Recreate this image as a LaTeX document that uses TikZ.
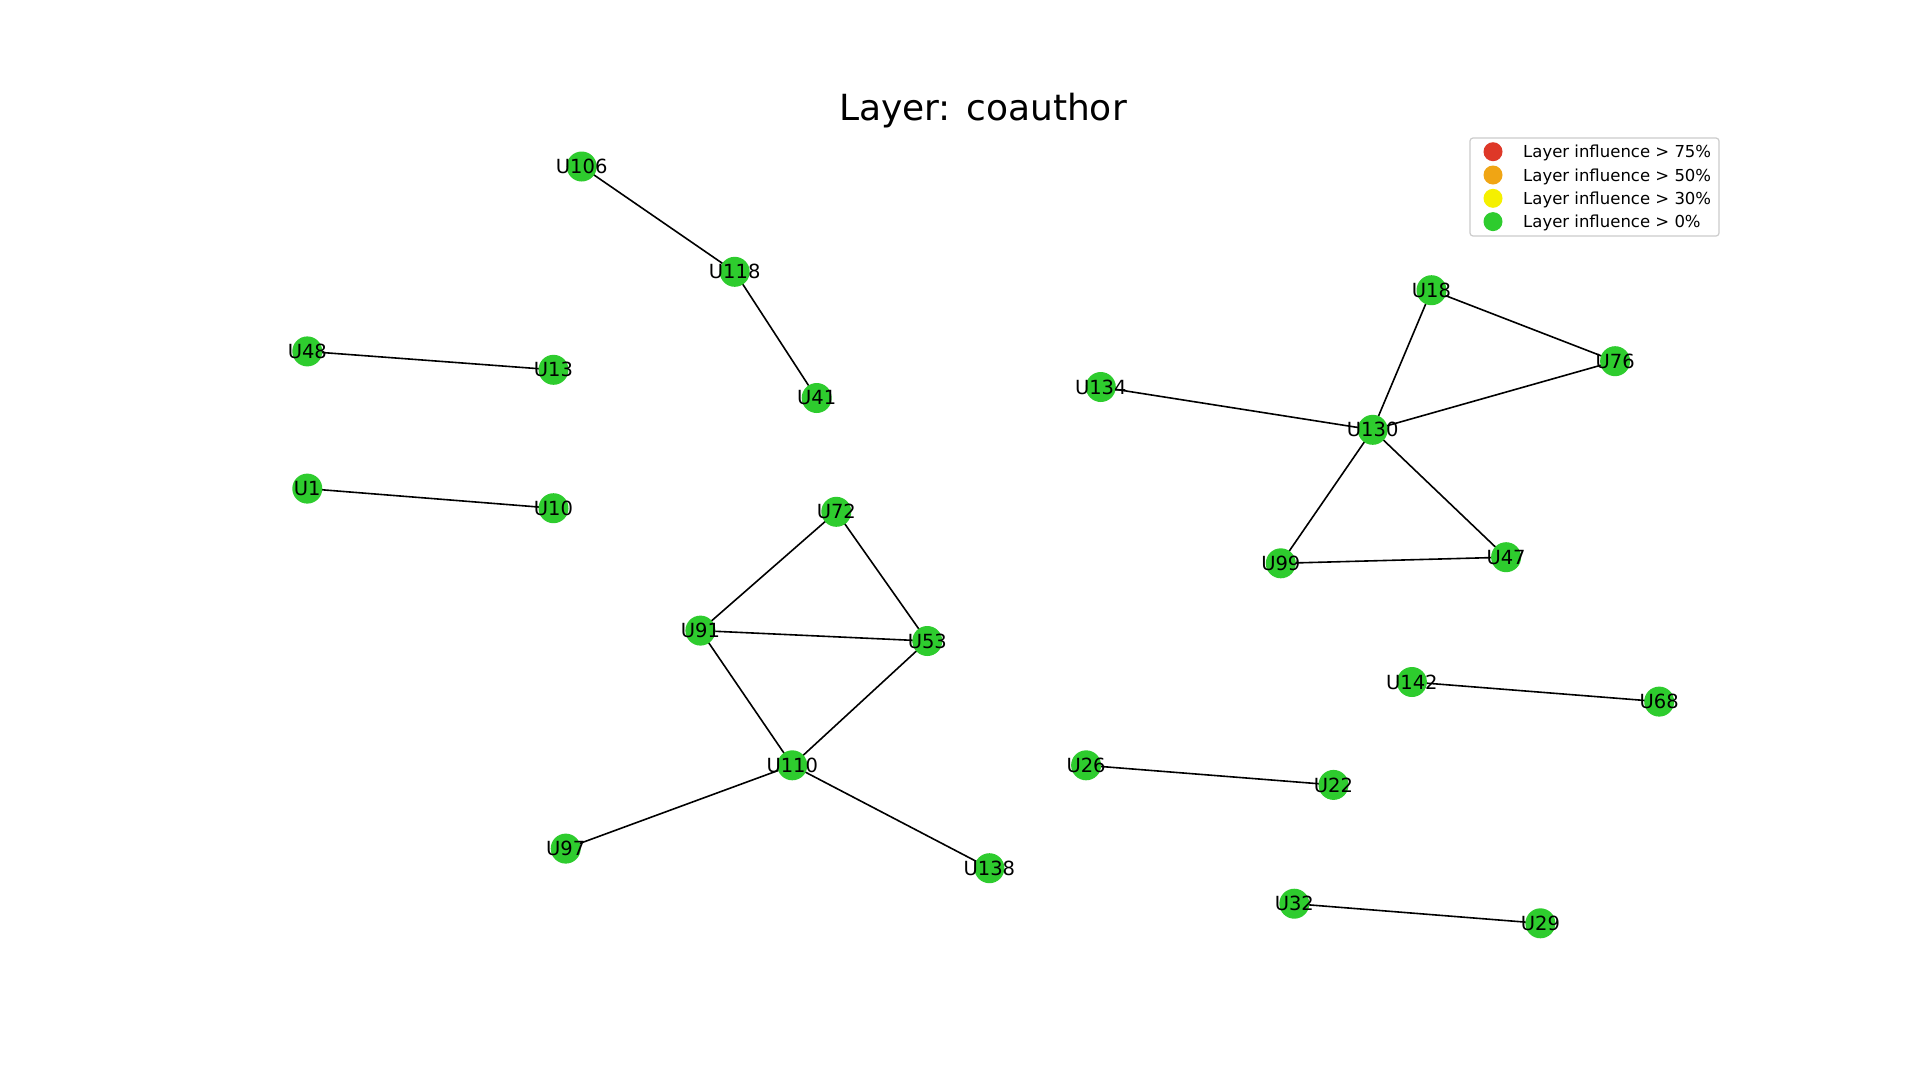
\documentclass[tikz,border=0pt]{standalone}
\usepackage{fontspec}
\setmainfont{DejaVu Sans}
\pgfdeclarelayer{bg}
\pgfdeclarelayer{edges}
\pgfsetlayers{bg,edges,main}
\definecolor{ngreen}{RGB}{46,204,46}
\definecolor{nred}{RGB}{222,56,40}
\definecolor{norange}{RGB}{240,165,20}
\definecolor{nyellow}{RGB}{245,240,0}
\definecolor{lgframe}{RGB}{204,204,204}
\tikzset{
  vtx/.style={circle,fill=ngreen,draw=none,minimum size=30pt,inner sep=0pt},
  lbl/.style={font=\fontsize{19.5}{21}\selectfont,text=black,inner sep=0pt},
  edge/.style={draw=black,line width=1.6pt},
  lgmark/.style={circle,draw=none,minimum size=19pt,inner sep=0pt},
  lgtext/.style={font=\fontsize{16.5}{18}\selectfont,anchor=base west,inner sep=0pt},
}
\newcommand{\vnode}[3]{\node[vtx,label={[lbl]center:#3}] (#1) at (#2) {};}
\begin{document}
\begin{tikzpicture}[x=1pt,y=-1pt]
\begin{pgfonlayer}{bg}
\fill[white] (0,0) rectangle (1920,1080);
\end{pgfonlayer}
\useasboundingbox (0,0) rectangle (1920,1080);
\node[font=\fontsize{36}{40}\selectfont,inner sep=0pt,anchor=base] (title) at (983,120) {Layer: coauthor};
% nodes
\vnode{U106}{581.7,166.5}{U106}
\vnode{U118}{734.7,271.8}{U118}
\vnode{U41}{816.7,398}{U41}
\vnode{U48}{307.3,351.4}{U48}
\vnode{U13}{553.5,369.8}{U13}
\vnode{U1}{307.3,488.6}{U1}
\vnode{U10}{553.5,508.2}{U10}
\vnode{U72}{836.3,511.8}{U72}
\vnode{U91}{700.4,630.6}{U91}
\vnode{U53}{927.3,641}{U53}
\vnode{U110}{792.3,765.3}{U110}
\vnode{U97}{565.7,848.6}{U97}
\vnode{U138}{989.4,868.2}{U138}
\vnode{U134}{1100.8,387}{U134}
\vnode{U130}{1372.7,429.8}{U130}
\vnode{U18}{1431.5,290.2}{U18}
\vnode{U76}{1615.1,361.2}{U76}
\vnode{U99}{1280.8,563.3}{U99}
\vnode{U47}{1506.1,557.2}{U47}
\vnode{U142}{1411.9,682}{U142}
\vnode{U68}{1659.2,701.6}{U68}
\vnode{U26}{1086.1,765.3}{U26}
\vnode{U22}{1333.5,784.9}{U22}
\vnode{U32}{1294.3,903.7}{U32}
\vnode{U29}{1540.4,923.3}{U29}
% edges
\begin{pgfonlayer}{edges}
\foreach \a/\b in {U106/U118,U118/U41,U48/U13,U1/U10,U72/U91,U72/U53,U91/U53,U91/U110,U53/U110,U110/U97,U110/U138,U134/U130,U130/U18,U130/U76,U18/U76,U130/U99,U130/U47,U99/U47,U142/U68,U26/U22,U32/U29}
  \draw[edge] (\a.center) -- (\b.center);
\end{pgfonlayer}
% legend
\node[draw=lgframe,line width=1.2pt,rounded corners=3pt,fill=white,minimum width=249pt,minimum height=98pt,inner sep=0pt] (legend) at (1594.5,187) {};
\node[lgmark,fill=nred] (m1) at (1493,151.7) {};
\node[lgmark,fill=norange] (m2) at (1493,175) {};
\node[lgmark,fill=nyellow] (m3) at (1493,198.3) {};
\node[lgmark,fill=ngreen] (m4) at (1493,221.6) {};
\node[lgtext] (t1) at (1523,157.7) {Layer influence > 75\%};
\node[lgtext] (t2) at (1523,181) {Layer influence > 50\%};
\node[lgtext] (t3) at (1523,204.3) {Layer influence > 30\%};
\node[lgtext] (t4) at (1523,227.6) {Layer influence > 0\%};
\end{tikzpicture}
\end{document}
